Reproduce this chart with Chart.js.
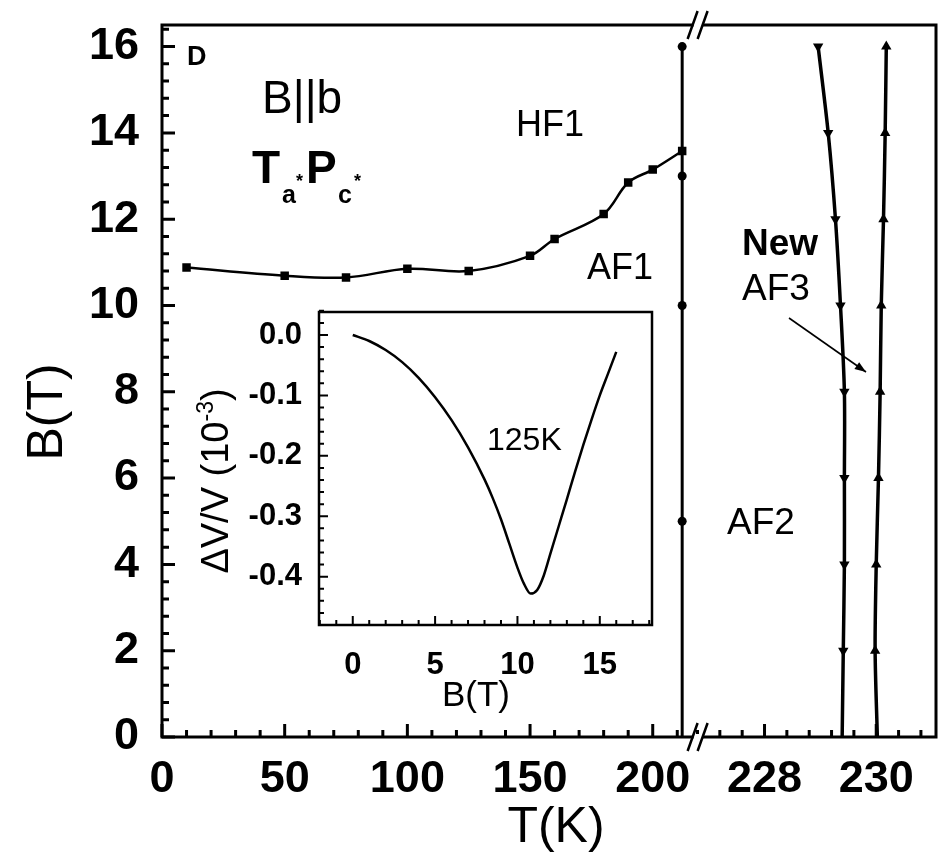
<!DOCTYPE html>
<html>
<head>
<meta charset="utf-8">
<script src="https://cdn.jsdelivr.net/npm/chart.js@4.4.0/dist/chart.umd.min.js"></script>
<style>
  html, body { margin: 0; padding: 0; background: #fff; }
  #wrap { position: relative; width: 942px; height: 855px; }
  #main { position: absolute; left: 0; top: 0; }
  #inset { position: absolute; left: 180px; top: 300px; }
</style>
</head>
<body>
<div id="wrap">
  <canvas id="main" width="942" height="855"></canvas>
  <canvas id="inset" width="480" height="430"></canvas>
</div>
<script>
const FONT = "'Liberation Sans', Arial, sans-serif";

// HF1 / AF1 boundary (squares)
const hfT = [10, 50, 75, 100, 125, 150, 160, 180, 190, 200, 212];
const hfB = [10.88, 10.69, 10.65, 10.85, 10.8, 11.15, 11.54, 12.12, 12.85, 13.15, 13.58];

// AF1 / AF2 boundary (circles, vertical)
const afT = [212, 212, 212, 212, 212];
const afB = [16, 13, 10, 5, 0];

// new AF3 phase boundaries (right of the axis break)
const downB = [16, 14, 12, 10, 8, 6, 4, 2, 0];
const downT = [228.96, 229.14, 229.27, 229.36, 229.43, 229.43, 229.43, 229.41, 229.39];
const upB = [16, 14, 12, 10, 8, 6, 4, 2, 0];
const upT = [230.18, 230.16, 230.13, 230.09, 230.07, 230.04, 230.0, 229.98, 230.02];

// tick labels
const yTicks = [0, 2, 4, 6, 8, 10, 12, 14, 16];
const xLeftTicks = [0, 50, 100, 150, 200];
const xRightTicks = [228, 230];

// inset: dV/V (1e-3) vs B at 125 K
const insetB = [0, 1, 2, 3, 4, 5, 6, 7, 8, 8.5, 9, 9.5, 10, 10.4, 10.8, 11.2, 11.6, 12, 12.5, 13, 13.5, 14, 14.5, 15, 15.5, 16];
const insetDV = [0, -0.010, -0.025, -0.045, -0.071, -0.103, -0.141, -0.186, -0.239, -0.27, -0.305, -0.345, -0.385, -0.412, -0.428, -0.422, -0.398, -0.362, -0.317, -0.272, -0.226, -0.182, -0.14, -0.1, -0.064, -0.028];
const insetXTicks = [0, 5, 10, 15];
const insetYTicks = [0, -0.1, -0.2, -0.3, -0.4];
const insetYLabels = ['0.0', '-0.1', '-0.2', '-0.3', '-0.4'];

const pts = (xs, ys) => xs.map((x, i) => ({ x: x, y: ys[i] }));

function txt(ctx, s, x, y, size, weight, align) {
  ctx.font = (weight || 'normal') + ' ' + size + 'px ' + FONT;
  ctx.textAlign = align || 'left';
  ctx.textBaseline = 'alphabetic';
  ctx.fillText(s, x, y);
}

// keep the plot area exactly where the layout padding puts it
function noPad(s) {
  s.paddingTop = 0; s.paddingBottom = 0; s.paddingLeft = 0; s.paddingRight = 0;
}

const mainDecor = {
  id: 'mainDecor',
  afterDraw(chart) {
    const ctx = chart.ctx, a = chart.chartArea;
    const y = chart.scales.y, xL = chart.scales.xL, xR = chart.scales.xR;
    ctx.save();
    ctx.strokeStyle = '#000';
    ctx.fillStyle = '#000';
    ctx.lineWidth = 3;
    ctx.strokeRect(a.left, a.top, a.right - a.left, a.bottom - a.top);

    // inward ticks
    ctx.beginPath();
    for (let i = 0; i * 0.4 <= 16.5; i++) {
      const py = y.getPixelForValue(i * 0.4);
      const len = i % 5 === 0 ? 13 : 7;
      ctx.moveTo(a.left, py); ctx.lineTo(a.left + len, py);
    }
    for (let t = 0; t <= 210; t += 10) {
      const px = xL.getPixelForValue(t);
      const len = t % 50 === 0 ? 13 : 7;
      ctx.moveTo(px, a.bottom); ctx.lineTo(px, a.bottom - len);
    }
    for (let i = -3; i <= 7; i++) {
      const px = xR.getPixelForValue(228 + i * 0.4);
      const len = i % 5 === 0 ? 13 : 7;
      ctx.moveTo(px, a.bottom); ctx.lineTo(px, a.bottom - len);
    }
    ctx.stroke();

    // axis break marks
    const bx = xL.right;
    [a.top, a.bottom].forEach(by => {
      ctx.fillStyle = '#fff';
      ctx.fillRect(bx - 5, by - 3, 9, 6);
      ctx.beginPath();
      ctx.moveTo(bx - 11, by + 14); ctx.lineTo(bx - 1, by - 14);
      ctx.moveTo(bx - 1, by + 14); ctx.lineTo(bx + 9, by - 14);
      ctx.lineWidth = 2.5;
      ctx.stroke();
    });

    ctx.fillStyle = '#000';
    // labels
    txt(ctx, 'D', 187, 65, 27, 'bold');
    txt(ctx, 'B||b', 262, 113, 46);
    txt(ctx, 'T', 252, 183, 46, 'bold');
    txt(ctx, 'a', 282, 203, 25, 'bold');
    txt(ctx, '*', 296, 187, 18, 'bold');
    txt(ctx, 'P', 306, 183, 46, 'bold');
    txt(ctx, 'c', 338, 203, 25, 'bold');
    txt(ctx, '*', 354, 187, 18, 'bold');
    txt(ctx, 'HF1', 516, 136, 36);
    txt(ctx, 'AF1', 587, 279, 36);
    txt(ctx, 'AF2', 727, 534, 37);
    txt(ctx, 'New', 742, 255, 37, 'bold');
    txt(ctx, 'AF3', 742, 300, 37);

    // arrow to the AF3 pocket
    const x0 = 789, y0 = 318, x1 = 866, y1 = 372;
    ctx.lineWidth = 1.6;
    ctx.beginPath(); ctx.moveTo(x0, y0); ctx.lineTo(x1, y1); ctx.stroke();
    const ang = Math.atan2(y1 - y0, x1 - x0);
    ctx.beginPath();
    ctx.moveTo(x1, y1);
    ctx.lineTo(x1 - 12 * Math.cos(ang - 0.35), y1 - 12 * Math.sin(ang - 0.35));
    ctx.lineTo(x1 - 12 * Math.cos(ang + 0.35), y1 - 12 * Math.sin(ang + 0.35));
    ctx.closePath(); ctx.fill();

    // axis titles
    txt(ctx, 'T(K)', 556, 842, 50, 'normal', 'center');
    ctx.save();
    ctx.translate(62, 412);
    ctx.rotate(-Math.PI / 2);
    txt(ctx, 'B(T)', 0, 0, 50, 'normal', 'center');
    ctx.restore();
    ctx.restore();
  }
};

const tickFont = { family: FONT, size: 45, weight: 'bold' };

new Chart(document.getElementById('main').getContext('2d'), {
  type: 'line',
  data: {
    datasets: [
      {
        data: pts(hfT, hfB), xAxisID: 'xL', yAxisID: 'y',
        borderColor: '#000', borderWidth: 2.5, tension: 0.35,
        pointStyle: 'rect', pointRadius: 6, pointBackgroundColor: '#000', pointBorderWidth: 0
      },
      {
        data: pts(afT, afB), xAxisID: 'xL', yAxisID: 'y',
        borderColor: '#000', borderWidth: 3, tension: 0,
        pointStyle: 'circle', pointRadius: afB.map(b => b > 0 ? 4.5 : 0),
        pointBackgroundColor: '#000', pointBorderWidth: 0
      },
      {
        data: pts(downT, downB), xAxisID: 'xR', yAxisID: 'y',
        borderColor: '#000', borderWidth: 3.5, tension: 0.3,
        pointStyle: 'triangle', pointRotation: 180, pointRadius: downB.map(b => b > 0 ? 6 : 0),
        pointBackgroundColor: '#000', pointBorderWidth: 0
      },
      {
        data: pts(upT, upB), xAxisID: 'xR', yAxisID: 'y',
        borderColor: '#000', borderWidth: 3.5, tension: 0.3,
        pointStyle: 'triangle', pointRadius: upB.map(b => b > 0 ? 6 : 0),
        pointBackgroundColor: '#000', pointBorderWidth: 0
      }
    ]
  },
  options: {
    responsive: false,
    animation: false,
    layout: { padding: { top: 25, right: 4, left: 0, bottom: 0 } },
    plugins: { legend: { display: false }, tooltip: { enabled: false } },
    scales: {
      y: {
        type: 'linear', position: 'left', min: 0, max: 16.5,
        grid: { display: false }, border: { display: false },
        afterBuildTicks: s => { s.ticks = yTicks.map(v => ({ value: v })); },
        afterFit: s => { s.width = 162; noPad(s); },
        ticks: { padding: 15, color: '#000', font: tickFont }
      },
      xL: {
        type: 'linear', position: 'bottom', stack: 't', stackWeight: 538, min: 0, max: 218.7,
        grid: { display: false }, border: { display: false },
        afterBuildTicks: s => { s.ticks = xLeftTicks.map(v => ({ value: v })); },
        afterFit: s => { s.height = 118; noPad(s); },
        ticks: { padding: 8, color: '#000', font: tickFont, autoSkip: false, maxRotation: 0 }
      },
      xR: {
        type: 'linear', position: 'bottom', stack: 't', stackWeight: 238, min: 226.82, max: 231.07,
        grid: { display: false }, border: { display: false },
        afterBuildTicks: s => { s.ticks = xRightTicks.map(v => ({ value: v })); },
        afterFit: s => { s.height = 118; noPad(s); },
        ticks: { padding: 8, color: '#000', font: tickFont, autoSkip: false, maxRotation: 0 }
      }
    }
  },
  plugins: [mainDecor]
});

const insetDecor = {
  id: 'insetDecor',
  afterDraw(chart) {
    const ctx = chart.ctx, a = chart.chartArea;
    const x = chart.scales.x, y = chart.scales.y;
    ctx.save();
    ctx.strokeStyle = '#000';
    ctx.fillStyle = '#000';
    ctx.lineWidth = 2.5;
    ctx.strokeRect(a.left, a.top, a.right - a.left, a.bottom - a.top);
    ctx.lineWidth = 2;
    ctx.beginPath();
    for (let i = -24; i <= 2; i++) {
      const py = y.getPixelForValue(i * 0.02);
      const len = i % 5 === 0 ? 9 : 5;
      ctx.moveTo(a.left, py); ctx.lineTo(a.left + len, py);
    }
    for (let t = -2; t <= 18; t++) {
      const px = x.getPixelForValue(t);
      const len = t % 5 === 0 ? 9 : 5;
      ctx.moveTo(px, a.bottom); ctx.lineTo(px, a.bottom - len);
    }
    ctx.stroke();

    txt(ctx, '125K', 307, 150, 32);
    txt(ctx, 'B(T)', 296, 406, 35, 'normal', 'center');

    // rotated y title with superscript
    ctx.save();
    ctx.translate(48, 181);
    ctx.rotate(-Math.PI / 2);
    const p1 = '\u0394V/V (10', p3 = ')';
    ctx.font = '23px ' + FONT;
    const w2 = ctx.measureText('-3').width;
    ctx.font = '38px ' + FONT;
    const w1 = ctx.measureText(p1).width, w3 = ctx.measureText(p3).width;
    const sx = -(w1 + w2 + w3) / 2;
    txt(ctx, p1, sx, 0, 38);
    txt(ctx, '-3', sx + w1, -15, 23);
    txt(ctx, p3, sx + w1 + w2, 0, 38);
    ctx.restore();
    ctx.restore();
  }
};

const insetFont = { family: FONT, size: 31, weight: 'bold' };

new Chart(document.getElementById('inset').getContext('2d'), {
  type: 'line',
  data: {
    datasets: [{
      data: pts(insetB, insetDV),
      borderColor: '#000', borderWidth: 2.5, cubicInterpolationMode: 'monotone',
      pointRadius: 0
    }]
  },
  options: {
    responsive: false,
    animation: false,
    layout: { padding: { top: 12, right: 8, left: 0, bottom: 0 } },
    plugins: { legend: { display: false }, tooltip: { enabled: false } },
    scales: {
      x: {
        type: 'linear', min: -2.05, max: 18.17,
        grid: { display: false }, border: { display: false },
        afterBuildTicks: s => { s.ticks = insetXTicks.map(v => ({ value: v })); },
        afterFit: s => { s.height = 105; noPad(s); },
        ticks: { padding: 14, color: '#000', font: insetFont, autoSkip: false, maxRotation: 0 }
      },
      y: {
        type: 'linear', min: -0.48, max: 0.038,
        grid: { display: false }, border: { display: false },
        afterBuildTicks: s => { s.ticks = insetYTicks.map(v => ({ value: v })); },
        afterFit: s => { s.width = 139; noPad(s); },
        ticks: {
          padding: 9, color: '#000', font: insetFont,
          callback: (v, i) => insetYLabels[i]
        }
      }
    }
  },
  plugins: [insetDecor]
});
</script>
</body>
</html>
